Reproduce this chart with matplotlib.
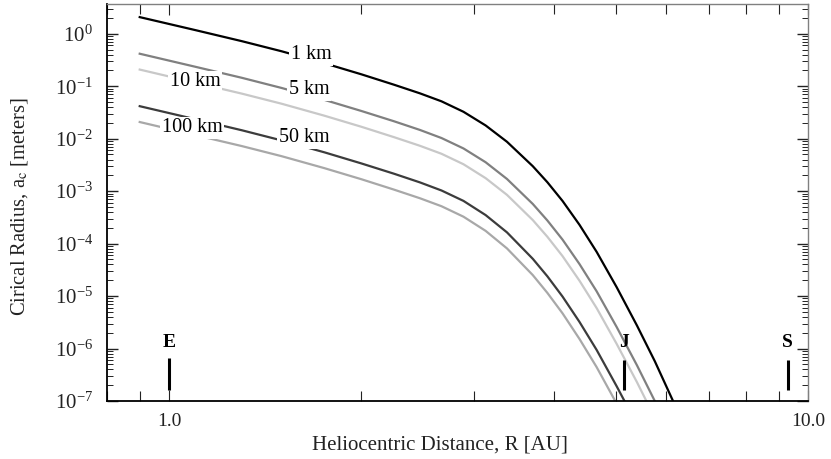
import matplotlib
matplotlib.use("Agg")
import matplotlib.pyplot as plt

plt.rcParams['font.family'] = ['Liberation Serif', 'DejaVu Serif']
plt.rcParams['mathtext.fontset'] = 'stix'
plt.rcParams['axes.unicode_minus'] = False

# heliocentric distance grid [AU]
R_au = [0.9, 1.1, 1.3, 1.5, 1.75, 2.0, 2.25, 2.47, 2.67, 2.89, 3.13,
        3.38, 3.71, 3.91, 4.13, 4.39, 4.67, 5.02, 5.40, 5.76, 6.14, 6.5]

# critical radius a_c [m] for each body size
ac_1km = [2.08, 1.175, 0.724, 0.465, 0.275, 0.169, 0.107, 0.0733, 0.0516, 0.0326, 0.0179,
          8.75e-3, 2.99e-3, 1.48e-3, 6.50e-4, 2.28e-4, 6.95e-5, 1.47e-5, 2.74e-6, 5.69e-7,
          1.04e-7, 2.24e-8]
ac_5km = [0.417, 0.235, 0.145, 0.0929, 0.0551, 0.0338, 0.0215, 0.0147, 0.0103, 6.52e-3,
          3.56e-3, 1.71e-3, 5.70e-4, 2.76e-4, 1.19e-4, 4.07e-5, 1.23e-5, 2.56e-6, 4.78e-7,
          9.9e-8, 1.82e-8]
ac_10km = [0.208, 0.117, 0.0724, 0.0465, 0.0275, 0.0169, 0.0107, 7.33e-3, 5.16e-3, 3.26e-3,
           1.77e-3, 8.51e-4, 2.81e-4, 1.35e-4, 5.77e-5, 1.96e-5, 5.89e-6, 1.22e-6, 2.28e-7,
           4.73e-8]
ac_50km = [0.0417, 0.0235, 0.0145, 9.29e-3, 5.51e-3, 3.38e-3, 2.15e-3, 1.47e-3, 1.03e-3,
           6.52e-4, 3.50e-4, 1.64e-4, 5.13e-5, 2.38e-5, 9.77e-6, 3.21e-6, 9.38e-7, 1.90e-7,
           3.54e-8]
ac_100km = [0.0208, 0.0117, 7.24e-3, 4.65e-3, 2.75e-3, 1.69e-3, 1.07e-3, 7.33e-4, 5.16e-4,
            3.26e-4, 1.75e-4, 8.11e-5, 2.51e-5, 1.15e-5, 4.68e-6, 1.52e-6, 4.41e-7, 8.85e-8,
            1.65e-8]

curves = [
    ("1 km", ac_1km, "#000000", (1.67, 0.40)),
    ("5 km", ac_5km, "#808080", (1.657, 0.0855)),
    ("10 km", ac_10km, "#c8c8c8", (1.10, 0.1215)),
    ("50 km", ac_50km, "#3c3c3c", (1.628, 0.0104)),
    ("100 km", ac_100km, "#a8a8a8", (1.087, 0.0161)),
]

# planet markers
planets = ["E", "J", "S"]
planet_R = [1.0, 5.15, 9.3]

fig = plt.figure(figsize=(8.31, 4.59), dpi=100)
ax = fig.add_axes([0.1288, 0.1264, 0.8435, 0.8649])

for name, ac, col, pos in curves:
    ax.plot(R_au[:len(ac)], ac, color=col, lw=1.6)
for name, ac, col, pos in curves:
    ax.text(pos[0], pos[1], name, fontsize=14.5, ha='center', va='center',
            bbox=dict(boxstyle='square,pad=0.08', fc='white', ec='none'))

for p, r in zip(planets, planet_R):
    top = 6.6e-7 if p == "E" else 6.0e-7
    ax.plot([r, r], [1.62e-7, top], color='black', lw=2.2, solid_capstyle='butt')
    ax.text(r, 1.28e-6, p, fontsize=14, fontweight='bold', ha='center', va='center')

ax.set_xscale('log')
ax.set_yscale('log')
ax.set_xlim(0.8, 10)
ax.set_ylim(1e-7, 3.7)

ax.set_xticks([1, 10], ['1.0', '10.0'])
ax.set_yticks([1e-7, 1e-6, 1e-5, 1e-4, 1e-3, 1e-2, 1e-1, 1e0])
ax.tick_params(which='both', direction='in', top=True, right=True, colors='#222222')
ax.tick_params(axis='x', which='major', length=8, width=0.8, labelsize=14, pad=9)
ax.tick_params(axis='x', which='minor', length=7, width=0.8)
ax.tick_params(axis='y', which='major', length=8, width=1.0, labelsize=15, pad=10)
ax.tick_params(axis='y', which='minor', length=4.5, width=0.7)
ax.tick_params(labelcolor='#222222')

for s in ['top', 'right']:
    ax.spines[s].set_color('#808080')
    ax.spines[s].set_linewidth(1.0)
for s in ['left', 'bottom']:
    ax.spines[s].set_color('black')
    ax.spines[s].set_linewidth(1.3)

ax.set_xlabel('Heliocentric Distance, R [AU]', fontsize=15, color='#222222')
ax.xaxis.set_label_coords(0.475, -0.088)
ax.set_ylabel(r'Cirical Radius, a$_{\mathrm{c}}$ [meters]', fontsize=14.8, color='#222222')
ax.yaxis.set_label_coords(-0.11, 0.49)

fig.savefig('out.png', dpi=100)
